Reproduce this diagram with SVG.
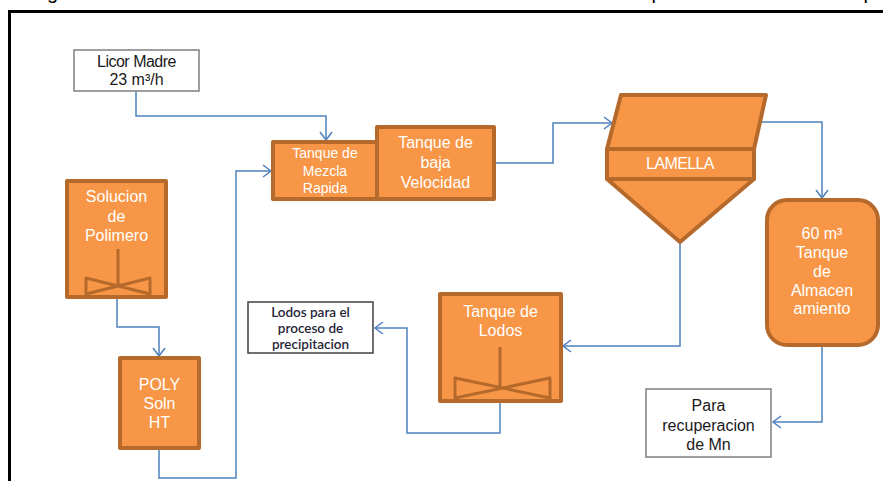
<svg xmlns="http://www.w3.org/2000/svg" width="883" height="481" viewBox="0 0 883 481">
  <style>
    .tank { fill: #F79646; stroke: #B56A2C; stroke-width: 4; stroke-linejoin: round; }
    .note { fill: #FFFFFF; stroke: #7F7F7F; stroke-width: 1.5; }
    .lbl { font-family: "Liberation Sans", Arial, sans-serif; font-size: 16px; fill: #FFFFFF; text-anchor: middle; }
    .sm { font-size: 14px; }
    .dark { fill: #1A1A1A; }
    .cal { font-family: Lato, "Liberation Sans", sans-serif; font-size: 13.5px; font-weight: 600; fill: #262636; text-anchor: middle; }
    .agit { fill: none; stroke: #B56A2C; stroke-width: 3; stroke-linejoin: round; }
    .flow { fill: none; stroke: #4F81BD; stroke-width: 1.5; marker-end: url(#arr); }
    .cap { font-family: "Liberation Sans", Arial, sans-serif; font-size: 20px; fill: #000000; }
  </style>
  <defs>
    <marker id="arr" markerUnits="userSpaceOnUse" markerWidth="12" markerHeight="14" refX="9" refY="7" orient="auto">
      <path d="M1,1 L9,7 L1,13" fill="none" stroke="#4F81BD" stroke-width="1.5"/>
    </marker>
  </defs>

  <rect width="883" height="481" fill="#FFFFFF"/>

  <!-- caption line above the frame (only its lowest strokes fall inside the page) -->
  <g id="caption">
    <text class="cap" x="47" y="-1">g</text>
    <text class="cap" x="651.5" y="-1">p</text>
    <text class="cap" x="863.5" y="-1">p</text>
  </g>

  <!-- frame -->
  <path d="M890,11.5 H9.5 V490" fill="none" stroke="#000000" stroke-width="3"/>

  <!-- connectors -->
  <g id="connectors">
    <path class="flow" d="M136,91 V116 H326 V140"/>
    <path class="flow" d="M117,297 V327 H159 V356"/>
    <path class="flow" d="M159,448 V478 H236 V171 H271"/>
    <path class="flow" d="M495,163 H553 V123 H612"/>
    <path class="flow" d="M760,122 H822 V198"/>
    <path class="flow" d="M680,242 V346 H563"/>
    <path class="flow" d="M500,401 V433 H407 V328 H375"/>
    <path class="flow" d="M822,345 V422 H773"/>
  </g>

  <g id="licor-madre">
    <rect class="note" x="74" y="50" width="125" height="41"/>
    <text class="lbl dark" x="136.5" y="67" style="letter-spacing:-0.5px">Licor Madre</text>
    <text class="lbl dark" x="136.5" y="85">23 m³/h</text>
  </g>

  <g id="tanque-mezcla">
    <rect class="tank" x="273" y="142" width="104" height="57"/>
    <text class="lbl sm" x="325" y="158">Tanque de</text>
    <text class="lbl sm" x="325" y="176">Mezcla</text>
    <text class="lbl sm" x="325" y="193">Rapida</text>
  </g>

  <g id="tanque-baja">
    <rect class="tank" x="377" y="127" width="117" height="72"/>
    <text class="lbl" x="435.5" y="148">Tanque de</text>
    <text class="lbl" x="435.5" y="168">baja</text>
    <text class="lbl" x="435.5" y="188">Velocidad</text>
  </g>

  <g id="lamella">
    <path class="tank" d="M621,95 H766 L754,149 H607 Z"/>
    <rect class="tank" x="607" y="149" width="147" height="30"/>
    <path class="tank" d="M607,179 H754 L680,242 Z"/>
    <text class="lbl" x="680" y="169" style="letter-spacing:-0.6px">LAMELLA</text>
  </g>

  <g id="tanque-almacenamiento">
    <rect class="tank" x="767" y="200" width="111" height="145" rx="20" ry="20"/>
    <text class="lbl" x="822" y="239">60 m³</text>
    <text class="lbl" x="822" y="258">Tanque</text>
    <text class="lbl" x="822" y="277">de</text>
    <text class="lbl" x="822" y="296">Almacen</text>
    <text class="lbl" x="822" y="314">amiento</text>
  </g>

  <g id="solucion-polimero">
    <rect class="tank" x="67" y="181" width="99" height="116"/>
    <text class="lbl" x="116.5" y="202">Solucion</text>
    <text class="lbl" x="116.5" y="222">de</text>
    <text class="lbl" x="116.5" y="241">Polimero</text>
    <path class="agit" d="M118,249 V287 M86,278 V294 L150,278 V294 Z"/>
  </g>

  <g id="poly-soln">
    <rect class="tank" x="120" y="358" width="79" height="90"/>
    <text class="lbl" x="159.5" y="390">POLY</text>
    <text class="lbl" x="159.5" y="409">Soln</text>
    <text class="lbl" x="159.5" y="428">HT</text>
  </g>

  <g id="tanque-lodos">
    <rect class="tank" x="440" y="294" width="121" height="107"/>
    <text class="lbl" x="500.5" y="317">Tanque de</text>
    <text class="lbl" x="500.5" y="336">Lodos</text>
    <path class="agit" d="M500,347 V388 M455,378 V398 L550,378 V398 Z"/>
  </g>

  <g id="lodos-precipitacion">
    <rect class="note" x="248" y="302" width="125" height="51" style="stroke:#404040"/>
    <text class="cal" x="310.5" y="317">Lodos para el</text>
    <text class="cal" x="310.5" y="333">proceso de</text>
    <text class="cal" x="310.5" y="349">precipitacion</text>
  </g>

  <g id="recuperacion-mn">
    <rect class="note" x="646" y="389" width="125" height="68"/>
    <text class="lbl dark" x="708.5" y="411">Para</text>
    <text class="lbl dark" x="708.5" y="431">recuperacion</text>
    <text class="lbl dark" x="708.5" y="450">de Mn</text>
  </g>
</svg>
